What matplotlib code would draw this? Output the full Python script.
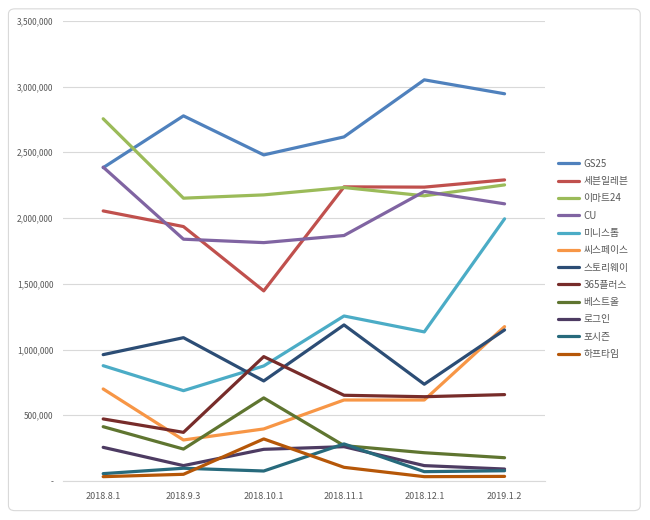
import matplotlib.pyplot as plt
from matplotlib.patches import FancyBboxPatch
from matplotlib.ticker import FuncFormatter

plt.rcParams['font.family'] = ['Noto Sans CJK KR', 'DejaVu Sans']

dates = ['2018.8.1', '2018.9.3', '2018.10.1', '2018.11.1', '2018.12.1', '2019.1.2']

gs25 = [2383000, 2777000, 2480000, 2617000, 3051000, 2945000]
seven_eleven = [2054000, 1935000, 1446000, 2237000, 2235000, 2290000]
emart24 = [2755000, 2151000, 2176000, 2232000, 2169000, 2252000]
cu = [2387000, 1839000, 1813000, 1867000, 2202000, 2108000]
ministop = [877000, 687000, 875000, 1255000, 1134000, 1994000]
cspace = [700000, 312000, 396000, 616000, 616000, 1174000]
storyway = [961000, 1090000, 761000, 1187000, 736000, 1149000]
plus365 = [472000, 370000, 946000, 652000, 641000, 657000]
bestall = [413000, 243000, 632000, 269000, 215000, 177000]
login = [256000, 117000, 241000, 261000, 117000, 91000]
fourseason = [56000, 97000, 76000, 282000, 71000, 78000]
halftime = [33000, 51000, 320000, 104000, 33000, 35000]

names = ['GS25', '세븐일레븐', '이마트24', 'CU', '미니스톱', '씨스페이스',
         '스토리웨이', '365플러스', '베스트올', '로그인', '포시즌', '하프타임']
series = [gs25, seven_eleven, emart24, cu, ministop, cspace,
          storyway, plus365, bestall, login, fourseason, halftime]
colors = ['#4F81BD', '#C0504D', '#9BBB59', '#8064A2', '#4BACC6', '#F79646',
          '#2C4D75', '#772C2A', '#5F7530', '#4D3B62', '#276A7C', '#B65708']

fig = plt.figure(figsize=(6.5, 5.2), dpi=100)
fig.patches.append(FancyBboxPatch((0.013, 0.018), 0.972, 0.965,
                                  boxstyle='round,pad=0,rounding_size=0.01',
                                  transform=fig.transFigure, fill=False,
                                  edgecolor='#d9d9d9', linewidth=0.8))
ax = fig.add_axes([0.097, 0.075, 0.741, 0.885])

x = list(range(len(dates)))
for name, vals, c in zip(names, series, colors):
    ax.plot(x, vals, color=c, linewidth=2.3, label=name, solid_capstyle='round')

ax.set_xlim(-0.5, 5.5)
ax.set_ylim(0, 3500000)
ax.set_yticks(range(0, 3500001, 500000))
ax.yaxis.set_major_formatter(FuncFormatter(lambda v, p: '-' if v == 0 else f'{int(v):,}'))
ax.set_xticks(x)
ax.set_xticklabels(dates)
ax.tick_params(axis='both', length=0, labelsize=6.5, colors='#595959')
ax.tick_params(axis='x', pad=8)
ax.tick_params(axis='y', labelsize=6, pad=7)
ax.grid(axis='y', color='#d9d9d9', linewidth=0.8)
ax.set_axisbelow(True)
for s in ['top', 'right', 'left']:
    ax.spines[s].set_visible(False)
ax.spines['bottom'].set_color('#d9d9d9')

fig.legend(loc='center left', bbox_to_anchor=(0.845, 0.502), frameon=False,
           fontsize=7, handlelength=2.2, labelspacing=0.75, handletextpad=0.4,
           labelcolor='#595959')

fig.savefig('out.png', dpi=100)
